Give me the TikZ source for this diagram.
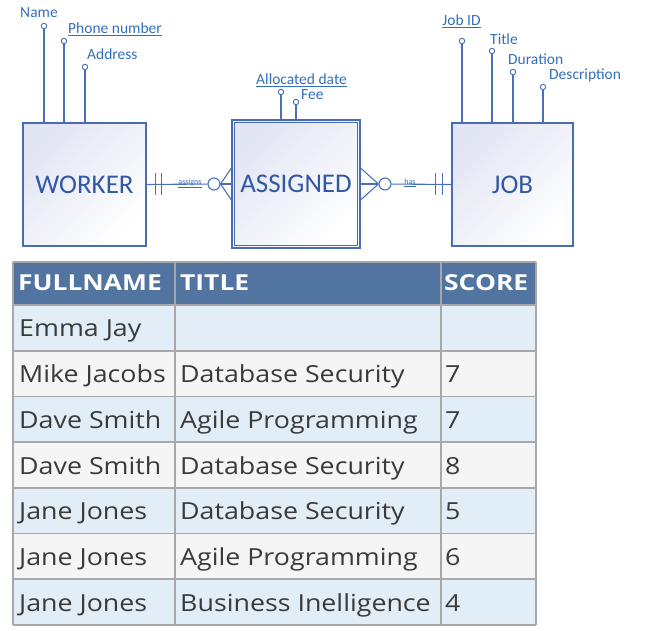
\documentclass[tikz,border=0pt]{standalone}
\usepackage{fontspec}
\setmainfont{Carlito}
\newfontfamily\tabfont[FakeStretch=1.14]{Open Sans}
\newfontfamily\tabheadfont[FakeStretch=1.2]{Open Sans}
\definecolor{boxc}{RGB}{74,108,180}
\definecolor{linec}{RGB}{72,112,190}
\definecolor{lav}{RGB}{226,229,243}
\definecolor{lavmid}{RGB}{244,245,251}
\definecolor{enttext}{RGB}{50,88,165}
\definecolor{attrtext}{RGB}{52,112,185}
\definecolor{hdr}{RGB}{82,116,160}
\definecolor{rowb}{RGB}{226,238,247}
\definecolor{rowg}{RGB}{245,245,245}
\definecolor{gridc}{RGB}{168,168,168}
\definecolor{celltext}{RGB}{58,58,58}
\begin{document}
\begin{tikzpicture}[x=1pt,y=-1pt,
  entity/.style={draw=boxc, line width=1.1pt, top color=lav, middle color=lavmid, bottom color=white, shading angle=45,
    minimum width=123pt, minimum height=123pt, inner sep=0pt,
    font=\fontsize{27}{30}\selectfont, text=enttext},
  attrc/.style={circle, draw=linec, fill=white, line width=0.9pt, minimum size=5.5pt, inner sep=0pt},
  attrl/.style={font=\fontsize{15.5}{17}\selectfont, text=attrtext, inner sep=0pt},
  link/.style={draw=linec, line width=1.1pt},
  rel/.style={font=\fontsize{8}{9}\selectfont, text=attrtext, inner sep=0pt},
  optc/.style={circle, draw=linec, fill=white, line width=1.1pt, minimum size=12pt, inner sep=0pt},
  cell/.style={font=\tabfont\fontsize{23.5}{26}\selectfont, text=celltext, inner sep=0pt, anchor=base west},
  headcell/.style={font=\tabheadfont\bfseries\fontsize{22}{24}\selectfont, text=white, inner sep=0pt, anchor=base west},
  gridline/.style={draw=gridc, line width=1.8pt}
]
\useasboundingbox (0,0) rectangle (646,631);

% ---------- entities ----------
\node[entity] (wk) at (84.5,184.5) {WORKER};
\node[entity, minimum width=128pt, minimum height=128pt] (as) at (296,184) {ASSIGNED};
\draw[boxc, line width=0.9pt] ([xshift=3pt,yshift=-3pt]as.north west) rectangle ([xshift=-3pt,yshift=3pt]as.south east);
\node[entity, minimum width=121pt] (jb) at (512.5,184.5) {JOB};

% ---------- WORKER attributes ----------
\node[attrc] (wa1) at (44,26) {};
\node[attrc] (wa2) at (64,41) {};
\node[attrc] (wa3) at (85,67) {};
\foreach \a in {wa1,wa2,wa3} \draw[link] (\a) -- (\a |- wk.north);
\node[attrl] (wl1) at (39,13) {Name};
\node[attrl, anchor=west] (wl2) at (68,29) {\underline{Phone number}};
\node[attrl, anchor=west] (wl3) at (87,54) {Address};

% ---------- ASSIGNED attributes ----------
\node[attrc] (aa1) at (281,92) {};
\node[attrc] (aa2) at (296,102) {};
\foreach \a in {aa1,aa2} \draw[link] (\a) -- (\a |- as.north);
\node[attrl] (al1) at (301.5,80) {\underline{Allocated date}};
\node[attrl, anchor=west] (al2) at (301,95) {Fee};

% ---------- JOB attributes ----------
\node[attrc] (ja1) at (462,41) {};
\node[attrc] (ja2) at (492,51) {};
\node[attrc] (ja3) at (513,72) {};
\node[attrc] (ja4) at (543,87) {};
\foreach \a in {ja1,ja2,ja3,ja4} \draw[link] (\a) -- (\a |- jb.north);
\node[attrl] (jl1) at (461.5,21) {\underline{Job ID}};
\node[attrl, anchor=west] (jl2) at (490,39) {Title};
\node[attrl, anchor=west] (jl3) at (508,59) {Duration};
\node[attrl, anchor=west] (jl4) at (549,75) {Description};

% ---------- relationships ----------
\node[optc] (oc1) at (214,184) {};
\node[optc] (oc2) at (385,184) {};
\draw[link] (wk.east) -- (oc1);
\draw[link] ([xshift=9pt]wk.east) ++(0,-11) -- ++(0,22);
\draw[link] ([xshift=15pt]wk.east) ++(0,-11) -- ++(0,22);
\draw[link] (oc1.east) -- (as.west);
\draw[link] (oc1.east) -- ([yshift=16pt]as.west);
\draw[link] (oc1.east) -- ([yshift=-16pt]as.west);
\node[rel] (r1) at (190,183) {\underline{assigns}};

\draw[link] (as.east) -- (oc2.west);
\draw[link] ([yshift=16pt]as.east) -- (oc2.west);
\draw[link] ([yshift=-16pt]as.east) -- (oc2.west);
\draw[link] (oc2) -- (jb.west);
\draw[link] ([xshift=-16pt]jb.west) ++(0,-11) -- ++(0,22);
\draw[link] ([xshift=-9pt]jb.west) ++(0,-11) -- ++(0,22);
\node[rel] (r2) at (410,183) {\underline{has}};

% ---------- table ----------
\fill[hdr] (13,262) rectangle (536,305);
\foreach \i/\c in {0/rowb,1/rowg,2/rowb,3/rowg,4/rowb,5/rowg,6/rowb}
  \fill[\c] (13,{305+45.714*\i}) rectangle (536,{305+45.714*(\i+1)});
\foreach \i in {0,...,7}
  \draw[gridline] (13,{305+45.714*\i}) -- (536,{305+45.714*\i});
\draw[gridline] (13,262) -- (536,262);
\foreach \x in {13,175,441,536}
  \draw[gridline] (\x,262) -- (\x,625);

\node[headcell] (h1) at (18,291) {FULLNAME};
\node[headcell] (h2) at (180,291) {TITLE};
\node[headcell] (h3) at (444,291) {SCORE};

\foreach \i/\a/\b/\c in {0/Emma Jay/{}/{},1/Mike Jacobs/Database Security/7,2/Dave Smith/Agile Programming/7,3/Dave Smith/Database Security/8,4/Jane Jones/Database Security/5,5/Jane Jones/Agile Programming/6,6/Jane Jones/Business Inelligence/4}{
  \node[cell] (n\i a) at (19,{305+45.714*\i+32}) {\a};
  \node[cell] (n\i b) at (180,{305+45.714*\i+32}) {\b};
  \node[cell] (n\i c) at (445,{305+45.714*\i+32}) {\c};
}
\end{tikzpicture}
\end{document}
